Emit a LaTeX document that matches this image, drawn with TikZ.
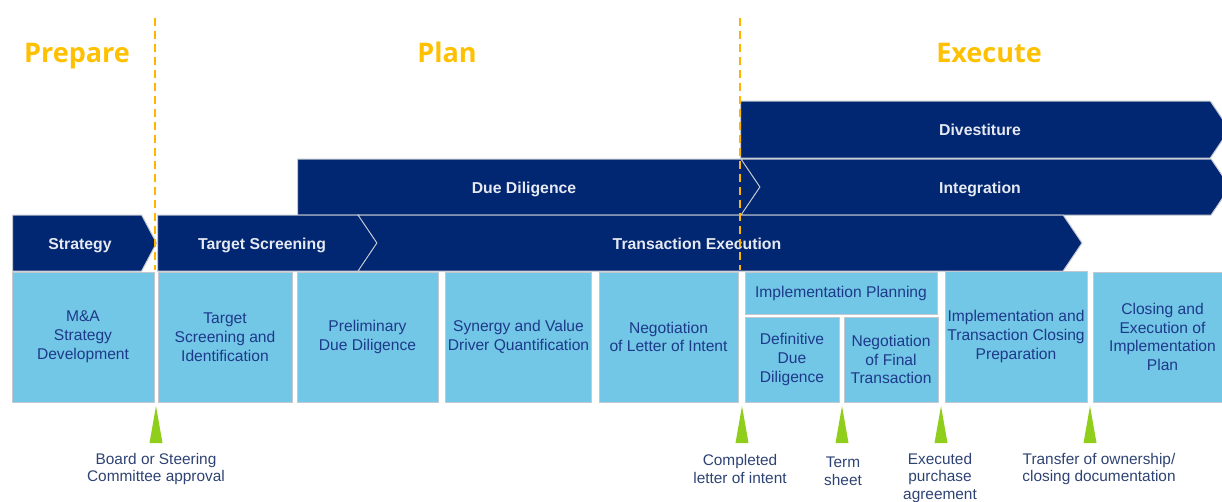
\documentclass[tikz,border=0pt]{standalone}
\usepackage{fontspec}
\setmainfont{Liberation Sans}
\newfontfamily\headfont{Open Sans}
\usetikzlibrary{shapes.symbols}

\definecolor{navy}{HTML}{012672}
\definecolor{skyblue}{HTML}{72C6E6}
\definecolor{boxtext}{HTML}{1D3A8A}
\definecolor{notetext}{HTML}{2E4374}
\definecolor{gold}{HTML}{FFC000}
\definecolor{dashgold}{HTML}{FFB400}
\definecolor{edge}{HTML}{C4C8D0}
\definecolor{signgreen}{HTML}{8FCF1C}

\begin{document}
\begin{tikzpicture}[x=1pt,y=-1pt,
    phase/.style={signal, signal to=east, signal pointer angle=112, fill=navy,
        draw=edge, line width=1pt, inner sep=0pt, minimum height=56pt},
    phasetext/.style={text=white!90!navy, text height=11.4pt, text depth=0pt,
        font=\fontsize{15.8}{19}\selectfont\bfseries},
    task/.style={rectangle, fill=skyblue, draw=edge, line width=0.8pt, inner sep=2pt,
        align=center, text=boxtext, font=\fontsize{15.6}{18.8}\selectfont},
    gate/.style={align=center, text=notetext, font=\fontsize{15.4}{17.8}\selectfont},
    stage/.style={anchor=base, text=gold, font=\headfont\fontsize{27}{30}\selectfont\bfseries},
    milestone/.style={fill=signgreen},
    stagegap/.style={draw=dashgold, line width=1.6pt, dash pattern=on 8pt off 5pt}
]
\useasboundingbox (0,0) rectangle (1222,501);
\clip (0,0) rectangle (1222,501);

% stage titles
\node[stage] (prepare) at (77,62) {Prepare};
\node[stage] (plan) at (447,62) {Plan};
\node[stage] (execute) at (989,62) {Execute};

% phase chevrons (flat-ended ones hang from their left side)
\node[phase, anchor=west, minimum height=57pt, minimum width=489pt] (divest) at (740,129.5) {};
\node[phase, anchor=west, minimum width=463pt] (duedil) at (297,187) {};
\node[phase, minimum width=489pt, signal from=west] (integ) at (985.5,187) {};
\node[phase, anchor=west, minimum width=144pt, signal pointer angle=124] (strat) at (12,243) {};
\node[phase, anchor=west, minimum width=220pt] (target) at (157,243) {};
\node[phase, minimum width=724pt, signal from=west] (transex) at (720,243) {};

\node[phasetext] (divest-t) at (980,130) {Divestiture};
\node[phasetext] (duedil-t) at (524,188) {Due Diligence};
\node[phasetext] (integ-t) at (980,188) {Integration};
\node[phasetext] (strat-t) at (80,244) {Strategy};
\node[phasetext] (target-t) at (262,244) {Target Screening};
\node[phasetext] (transex-t) at (697,244) {Transaction Execution};

% activities
\node[task, minimum width=142pt, minimum height=130pt] (ma) at (83,337) {M\&A\\Strategy\\Development};
\node[task, minimum width=134pt, minimum height=130pt] (screen) at (225,337) {Target\\Screening and\\Identification};
\node[task, minimum width=141pt, minimum height=130pt] (prelim) at (367.5,337) {Preliminary\\Due Diligence};
\node[task, minimum width=145pt, minimum height=130pt] (synergy) at (518.5,337) {Synergy and Value\\Driver Quantification};
\node[task, minimum width=139pt, minimum height=130pt] (loi) at (668.5,337) {Negotiation\\of Letter of Intent};
\node[task, minimum width=192pt, minimum height=42pt] (implplan) at (841,293) {Implementation Planning};
\node[task, minimum width=94pt, minimum height=85pt] (defdd) at (792,359.5) {Definitive\\Due\\Diligence};
\node[task, minimum width=94pt, minimum height=85pt] (final) at (891,359.5) {Negotiation\\of Final\\Transaction};
\node[task, minimum width=142pt, minimum height=131pt] (closeprep) at (1016,336.5) {Implementation and\\Transaction Closing\\Preparation};
\node[task, minimum width=139pt, minimum height=130pt] (closing) at (1162.5,337) {Closing and\\Execution of\\Implementation\\Plan};

% milestones
\foreach \x in {156,742,842,941,1090}
    \fill[milestone] (\x-6.5,443) -- (\x,406) -- (\x+6.5,443) -- cycle;

\node[gate] (board) at (156,469) {Board or Steering\\Committee approval};
\node[gate] (lettr) at (740,469) {Completed\\letter of intent};
\node[gate] (term) at (843,471) {Term\\sheet};
\node[gate] (spa) at (940,478) {Executed\\purchase\\agreement};
\node[gate] (transfer) at (1099,469) {Transfer of ownership/\\closing documentation};

% stage boundaries
\draw[stagegap] (155,18) -- (155,270);
\draw[stagegap] (740,18) -- (740,270);
\end{tikzpicture}
\end{document}
